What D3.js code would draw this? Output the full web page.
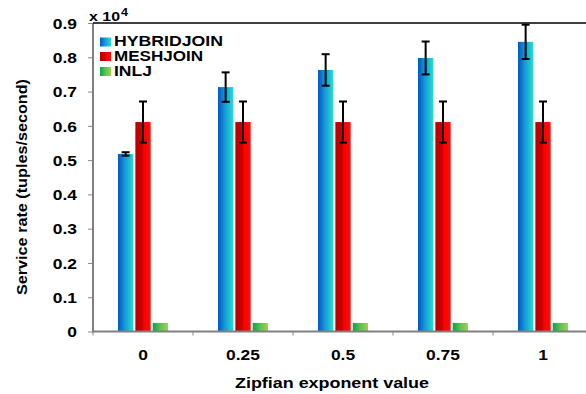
<!DOCTYPE html>
<html><head><meta charset="utf-8">
<script src="https://cdn.jsdelivr.net/npm/d3@7"></script>
<style>body{margin:0;background:#fff}svg{display:block}text{font-family:"Liberation Sans",Arial,sans-serif;font-weight:bold;fill:#000}</style>
</head><body><svg id="c" width="586" height="394"></svg>
<script>
const categories = ["0", "0.25", "0.5", "0.75", "1"];
const seriesNames = ["HYBRIDJOIN", "MESHJOIN", "INLJ"];
const hybridjoin = [0.518, 0.713, 0.763, 0.798, 0.845];
const hybridjoinErr = [0.005, 0.043, 0.046, 0.048, 0.050];
const meshjoin = [0.611, 0.611, 0.611, 0.611, 0.611];
const meshjoinErr = [0.060, 0.060, 0.060, 0.060, 0.060];
const inlj = [0.025, 0.025, 0.025, 0.025, 0.025];
const inljErr = [0, 0, 0, 0, 0];
const yTicks = [0, 0.1, 0.2, 0.3, 0.4, 0.5, 0.6, 0.7, 0.8, 0.9];

const values = [hybridjoin, meshjoin, inlj];
const errs = [hybridjoinErr, meshjoinErr, inljErr];

const svg = d3.select("#c");
const L = 93, R = 593, T = 23, B = 331.5;
const x = d3.scaleBand().domain(categories).range([L, R]);
const xs = d3.scaleBand().domain(seriesNames).range([25, 75]).paddingInner(0.12);
const y = d3.scaleLinear().domain([0, 0.9]).range([B, T]);

const defs = svg.append("defs");
const grads = [
  [["0%", "#0058c0"], ["45%", "#1898d8"], ["100%", "#22e0cc"]],
  [["0%", "#b80000"], ["45%", "#cc0000"], ["55%", "#ff0000"], ["100%", "#ff0a0a"]],
  [["0%", "#00a850"], ["50%", "#60c050"], ["100%", "#98d455"]]
];
grads.forEach((g, i) => {
  const lg = defs.append("linearGradient").attr("id", "g" + i).attr("x1", "0").attr("x2", "1").attr("y1", "0").attr("y2", "0");
  g.forEach(s => lg.append("stop").attr("offset", s[0]).attr("stop-color", s[1]));
});

// bars
seriesNames.forEach((s, si) => {
  svg.append("g").selectAll("rect").data(categories).join("rect")
    .attr("x", c => x(c) + xs(s))
    .attr("width", xs.bandwidth())
    .attr("y", (c, i) => y(values[si][i]))
    .attr("height", (c, i) => B - y(values[si][i]))
    .attr("fill", "url(#g" + si + ")");
});

// error bars
seriesNames.forEach((s, si) => {
  categories.forEach((c, i) => {
    const e = errs[si][i];
    if (!e) return;
    const cx = x(c) + xs(s) + xs.bandwidth() / 2;
    const y1 = y(values[si][i] + e), y2 = y(values[si][i] - e);
    const g = svg.append("g").attr("stroke", "#000").attr("stroke-width", 2);
    g.append("line").attr("x1", cx).attr("x2", cx).attr("y1", y1).attr("y2", y2);
    g.append("line").attr("x1", cx - 4).attr("x2", cx + 4).attr("y1", y1).attr("y2", y1);
    g.append("line").attr("x1", cx - 4).attr("x2", cx + 4).attr("y1", y2).attr("y2", y2);
  });
});

// axes
const ya = svg.append("g").attr("transform", `translate(${L},0)`)
  .call(d3.axisLeft(y).tickValues(yTicks).tickSize(5).tickFormat(d => d === 0 ? "0" : d3.format(".1f")(d)));
ya.select(".domain").remove();
ya.selectAll(".tick line").attr("stroke", "#888");
ya.selectAll(".tick text").attr("font-size", 14.5).attr("x", 0).attr("dy", "0.36em")
  .attr("transform", "translate(-16,0) scale(1.2,1)").attr("text-anchor", "end")
  .style("font-family", "'Liberation Sans',Arial,sans-serif").style("font-weight", "bold");

const xa = svg.append("g").attr("transform", `translate(0,${B})`)
  .call(d3.axisBottom(x).tickSize(0).tickPadding(0));
xa.select(".domain").remove();
xa.selectAll(".tick text").attr("font-size", 14.5).attr("y", 0).attr("dy", 0)
  .attr("transform", "translate(0,28) scale(1.2,1)")
  .style("font-family", "'Liberation Sans',Arial,sans-serif").style("font-weight", "bold");
// x boundary ticks
svg.append("g").selectAll("line").data(categories).join("line")
  .attr("x1", c => x(c)).attr("x2", c => x(c)).attr("y1", B).attr("y2", B + 4)
  .attr("stroke", "#888").attr("stroke-width", 1);

// axis lines
svg.append("line").attr("x1", L).attr("x2", 586).attr("y1", B).attr("y2", B).attr("stroke", "#808080").attr("stroke-width", 2);
svg.append("line").attr("x1", L).attr("x2", L).attr("y1", T).attr("y2", B + 1).attr("stroke", "#808080").attr("stroke-width", 2);
svg.append("line").attr("x1", L).attr("x2", 586).attr("y1", T).attr("y2", T).attr("stroke", "#000").attr("stroke-width", 1.5);

// exponent label
svg.append("text").attr("x", 89).attr("y", 20.5).style("font-size", "13.5px")
  .attr("textLength", 31).attr("lengthAdjust", "spacingAndGlyphs").text("x 10");
svg.append("text").attr("x", 121).attr("y", 15.5).style("font-size", "10px")
  .attr("textLength", 7).attr("lengthAdjust", "spacingAndGlyphs").text("4");

// legend
const legY = [37.5, 52, 67];
const legW = [109, 89, 38];
seriesNames.forEach((s, i) => {
  svg.append("rect").attr("x", 100).attr("y", legY[i]).attr("width", 11).attr("height", 9).attr("fill", "url(#g" + i + ")");
  svg.append("text").attr("x", 114).attr("y", legY[i] + 8.8).attr("font-size", 14.5)
    .attr("textLength", legW[i]).attr("lengthAdjust", "spacingAndGlyphs").text(s);
});

// titles
svg.append("text").attr("x", 332).attr("y", 387.5).attr("text-anchor", "middle").attr("font-size", 14)
  .attr("textLength", 194).attr("lengthAdjust", "spacingAndGlyphs").text("Zipfian exponent value");
svg.append("text").attr("transform", "translate(27,187) rotate(-90)").attr("text-anchor", "middle").attr("font-size", 15)
  .attr("textLength", 216).attr("lengthAdjust", "spacingAndGlyphs").text("Service rate (tuples/second)");
</script></body></html>
